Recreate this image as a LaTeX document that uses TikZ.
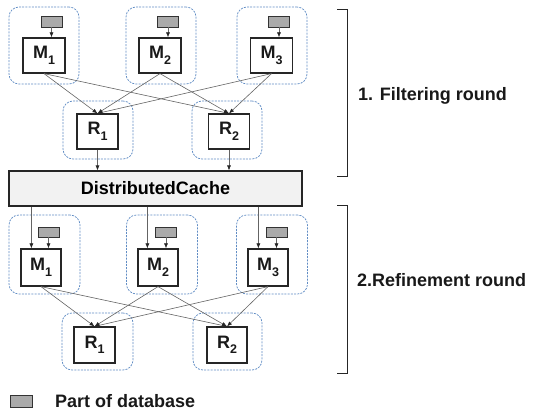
\documentclass[tikz,border=0pt]{standalone}
\usepackage{fontspec}
\setmainfont{Liberation Sans}
\usetikzlibrary{arrows.meta}
\definecolor{grpblue}{RGB}{96,140,196}
\definecolor{dbgrey}{RGB}{170,170,170}
\definecolor{cachefill}{RGB}{242,242,242}
\definecolor{connc}{RGB}{100,100,100}
\newcommand{\lab}[2]{\bfseries\fontsize{18}{18}\selectfont #1\raisebox{-0.3em}{\fontsize{12.5}{12.5}\selectfont #2}}
\tikzset{
  grp/.style={draw=grpblue, line width=0.75pt, dash pattern=on 2pt off 1.2pt, rounded corners=10pt, minimum width=#1, inner sep=0pt},
  mbox/.style={draw=black!85, line width=1.2pt, fill=white, inner sep=0pt, text=black!90},
  dbpart/.style={draw=black!80, line width=0.9pt, fill=dbgrey, minimum width=21pt, minimum height=11pt, inner sep=0pt},
  cache/.style={draw=black!85, line width=1.1pt, fill=cachefill, minimum width=293pt, minimum height=35pt, inner sep=0pt, font=\bfseries\fontsize{18}{18}\selectfont},
  conn/.style={draw=connc, line width=0.6pt, -{Latex[length=5pt,width=4pt,color=black!85]}},
  bracketline/.style={draw=black!85, line width=1pt},
  bigtext/.style={font=\bfseries\fontsize{18}{18}\selectfont, inner sep=0pt, anchor=west, text=black!90}
}
\begin{document}
\begin{tikzpicture}[x=1pt,y=-1pt]
\useasboundingbox (0,0) rectangle (536,413);
% ---------- top section ----------
\node[grp=70pt, minimum height=77pt] (tg1) at (44,45.5) {};
\node[grp=70pt, minimum height=77pt] (tg2) at (161,45.5) {};
\node[grp=70pt, minimum height=77pt] (tg3) at (272,45.5) {};
\node[mbox, minimum width=42pt, minimum height=35pt] (m1) at (44,55.5) {\lab{M}{1}};
\node[mbox, minimum width=42pt, minimum height=35pt] (m2) at (160,55.5) {\lab{M}{2}};
\node[mbox, minimum width=42pt, minimum height=35pt] (m3) at (271.5,55.5) {\lab{M}{3}};
\node[dbpart] (d1) at (51.5,21.5) {};
\node[dbpart] (d2) at (168,21.5) {};
\node[dbpart] (d3) at (279,21.5) {};
\draw[conn] (d1) -- (d1 |- m1.north);
\draw[conn] (d2) -- (d2 |- m2.north);
\draw[conn] (d3) -- (d3 |- m3.north);
\node[grp=70pt, minimum height=58pt] (tr1g) at (98,130) {};
\node[grp=70pt, minimum height=58pt] (tr2g) at (227,130) {};
\node[mbox, minimum width=41pt, minimum height=35pt] (r1) at (97.5,131.5) {\lab{R}{1}};
\node[mbox, minimum width=41pt, minimum height=35pt] (r2) at (229,131.5) {\lab{R}{2}};
\draw[conn] (m1.south) -- (r1.north);
\draw[conn] (m1.south) -- (r2.north);
\draw[conn] (m2.south) -- (r1.north);
\draw[conn] (m2.south) -- (r2.north);
\draw[conn] (m3.south) -- (r1.north);
\draw[conn] (m3.south) -- (r2.north);
% ---------- cache ----------
\node[cache] (dc) at (155.5,188.5) {DistributedCache};
\draw[conn] (r1.south) -- (r1.south |- dc.north);
\draw[conn] (r2.south) -- (r2.south |- dc.north);
% ---------- bottom section ----------
\node[grp=71pt, minimum height=79pt] (bg1) at (44.5,254.5) {};
\node[grp=71pt, minimum height=79pt] (bg2) at (162,254.5) {};
\node[grp=71pt, minimum height=79pt] (bg3) at (272,254.5) {};
\node[mbox, minimum width=40pt, minimum height=37pt] (bm1) at (41,267.5) {\lab{M}{1}};
\node[mbox, minimum width=40pt, minimum height=37pt] (bm2) at (158,267.5) {\lab{M}{2}};
\node[mbox, minimum width=40pt, minimum height=37pt] (bm3) at (268,267.5) {\lab{M}{3}};
\node[dbpart, minimum height=10pt] (bd1) at (48.5,232) {};
\node[dbpart, minimum height=10pt] (bd2) at (166,232) {};
\node[dbpart, minimum height=10pt] (bd3) at (276.5,232) {};
\draw[conn] (bd1) -- (bd1 |- bm1.north);
\draw[conn] (bd2) -- (bd2 |- bm2.north);
\draw[conn] (bd3) -- (bd3 |- bm3.north);
\coordinate (a1) at ([xshift=11pt]bm1.north west);
\coordinate (a2) at ([xshift=10pt]bm2.north west);
\coordinate (a3) at ([xshift=11pt]bm3.north west);
\draw[conn] (dc.south -| a1) -- (a1);
\draw[conn] (dc.south -| a2) -- (a2);
\draw[conn] (dc.south -| a3) -- (a3);
\node[grp=71pt, minimum height=57pt] (br1g) at (97.5,341.5) {};
\node[grp=69pt, minimum height=57pt] (br2g) at (227.5,341.5) {};
\node[mbox, minimum width=41pt, minimum height=36pt] (br1) at (94.5,345) {\lab{R}{1}};
\node[mbox, minimum width=40pt, minimum height=36pt] (br2) at (227,345) {\lab{R}{2}};
\draw[conn] (bm1.south) -- (br1.north);
\draw[conn] (bm1.south) -- (br2.north);
\draw[conn] (bm2.south) -- (br1.north);
\draw[conn] (bm2.south) -- (br2.north);
\draw[conn] (bm3.south) -- (br1.north);
\draw[conn] (bm3.south) -- (br2.north);
% ---------- brackets and labels ----------
\draw[bracketline] (337,9) -- (347,9) -- (347,176) -- (337,176);
\draw[bracketline] (337,205) -- (347,205) -- (347,373) -- (337,373);
\node[bigtext] (l1) at (358,96) {1. Filtering round};
\node[bigtext] (l2) at (357,280) {2.Refinement round};
% ---------- legend ----------
\node[dbpart, minimum width=22pt, minimum height=12pt] (leg) at (21,401) {};
\node[bigtext] (legt) at (55,401) {Part of database};
\end{tikzpicture}
\end{document}
